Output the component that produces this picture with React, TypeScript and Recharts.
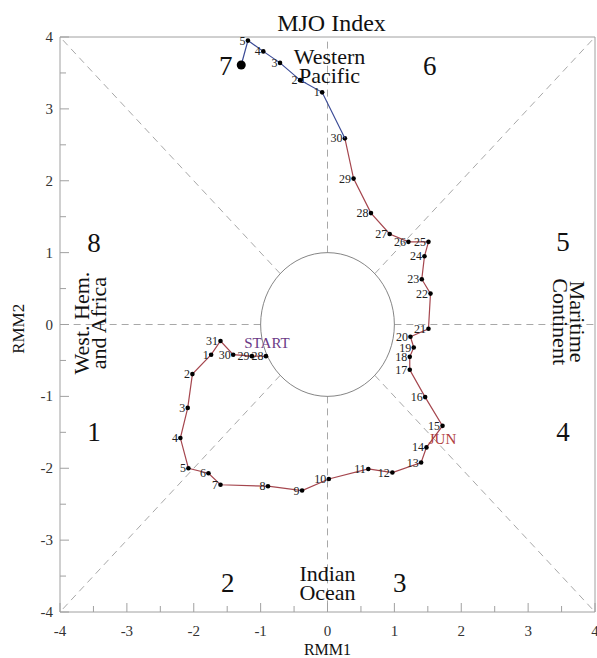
import React from 'react';
import { ScatterChart, Scatter, XAxis, YAxis, ReferenceLine, ReferenceDot } from 'recharts';

// red leg: last days of the first month, then the whole of the next month
const redDays = [28, 29, 30, 31, 1, 2, 3, 4, 5, 6, 7, 8, 9, 10, 11, 12, 13, 14, 15, 16, 17, 18, 19, 20, 21, 22, 23, 24, 25, 26, 27, 28, 29, 30];
const redRmm1 = [-0.92, -1.13, -1.41, -1.6, -1.74, -2.02, -2.09, -2.2, -2.08, -1.78, -1.6, -0.89, -0.38, 0.02, 0.61, 0.97, 1.4, 1.48, 1.72, 1.46, 1.23, 1.23, 1.29, 1.24, 1.51, 1.54, 1.41, 1.45, 1.51, 1.21, 0.93, 0.65, 0.39, 0.26];
const redRmm2 = [-0.44, -0.44, -0.42, -0.23, -0.42, -0.69, -1.16, -1.58, -2.0, -2.07, -2.23, -2.25, -2.31, -2.15, -2.01, -2.06, -1.92, -1.71, -1.41, -1.01, -0.63, -0.45, -0.32, -0.17, -0.06, 0.43, 0.63, 0.95, 1.15, 1.15, 1.26, 1.55, 2.03, 2.59];

// blue leg: first days of the following month
const blueDays = [1, 2, 3, 4, 5];
const blueRmm1 = [-0.08, -0.41, -0.71, -0.96, -1.19];
const blueRmm2 = [3.23, 3.4, 3.64, 3.8, 3.95];

const lastRmm1 = -1.29;
const lastRmm2 = 3.61;

const axisTicks = [-4, -3.5, -3, -2.5, -2, -1.5, -1, -0.5, 0, 0.5, 1, 1.5, 2, 2.5, 3, 3.5, 4];

const phaseLabels = ['1', '2', '3', '4', '5', '6', '7', '8'];
const phaseX = [-3.49, -1.49, 1.08, 3.52, 3.52, 1.53, -1.52, -3.49];
const phaseY = [-1.5, -3.6, -3.6, -1.5, 1.15, 3.6, 3.6, 1.13];

const regionNames = [['Western', 'Pacific'], ['Indian', 'Ocean'], ['West. Hem.', 'and Africa'], ['Maritime', 'Continent']];
const regionX = [0.03, 0.0, -3.56, 3.62];
const regionY = [3.61, -3.59, 0.02, 0.04];
const regionRot = [0, 0, -90, 90];

const W = 597;
const H = 658;
const M = { top: 36, right: 1, bottom: 45, left: 59 };
const plotW = W - M.left - M.right - 2;
const plotH = H - M.top - M.bottom - 2;

const FONT = '"Liberation Serif", "DejaVu Serif", serif';
const RED = '#a5464e';
const BLUE = '#3b4b96';
const GRID = '#a8a8a8';
const AXIS = '#a0a0a0';

const redData = redDays.map((d, i) => ({ x: redRmm1[i], y: redRmm2[i], day: d, idx: i }));
const blueData = [
  { x: redRmm1[redRmm1.length - 1], y: redRmm2[redRmm2.length - 1], day: null, link: true },
  ...blueDays.map((d, i) => ({ x: blueRmm1[i], y: blueRmm2[i], day: d })),
  { x: lastRmm1, y: lastRmm2, day: null, end: true },
];

const DayDot = (props: any) => {
  const { cx, cy, payload } = props;
  if (payload.link) return <g />;
  if (payload.end) return <circle cx={cx} cy={cy} r={4.5} fill="#000" />;
  return (
    <g>
      <circle cx={cx} cy={cy} r={2.3} fill="#000" />
      <text x={cx - 2.5} y={cy} textAnchor="end" dominantBaseline="central" fontSize={12} fontFamily={FONT} fill="#222">
        {payload.day}
      </text>
      {payload.idx === 0 && (
        <text x={cx + 1} y={cy - 13} textAnchor="middle" dominantBaseline="central" fontSize={15} fontFamily={FONT} fill="#6b3a86">
          START
        </text>
      )}
      {payload.idx === 18 && (
        <text x={cx} y={cy + 13} textAnchor="middle" dominantBaseline="central" fontSize={15} fontFamily={FONT} fill="#b04040">
          JUN
        </text>
      )}
    </g>
  );
};

const BottomTick = (props: any) => {
  const { x, y, payload } = props;
  const v = payload.value;
  const major = Number.isInteger(v);
  return (
    <g>
      <line x1={x} x2={x} y1={y} y2={y - (major ? 9 : 6)} stroke={AXIS} />
      {major && (
        <text x={x} y={y + 19} textAnchor="middle" dominantBaseline="central" fontSize={15} fontFamily={FONT} fill="#333">
          {v}
        </text>
      )}
    </g>
  );
};

const TopTick = (props: any) => {
  const { x, y, payload } = props;
  const major = Number.isInteger(payload.value);
  return <line x1={x} x2={x} y1={y} y2={y + (major ? 9 : 6)} stroke={AXIS} />;
};

const LeftTick = (props: any) => {
  const { x, y, payload } = props;
  const v = payload.value;
  const major = Number.isInteger(v);
  return (
    <g>
      <line x1={x} x2={x + (major ? 9 : 6)} y1={y} y2={y} stroke={AXIS} />
      {major && (
        <text x={x - 7} y={y} textAnchor="end" dominantBaseline="central" fontSize={15} fontFamily={FONT} fill="#333">
          {v}
        </text>
      )}
    </g>
  );
};

const RightTick = (props: any) => {
  const { x, y, payload } = props;
  const major = Number.isInteger(payload.value);
  return <line x1={x} x2={x - (major ? 9 : 6)} y1={y} y2={y} stroke={AXIS} />;
};

const textShape = (lines: string[], size: number, rot: number, lh: number) => (p: any) => {
  const { cx, cy } = p;
  return (
    <text transform={rot ? `rotate(${rot} ${cx} ${cy})` : undefined} fontSize={size} fontFamily={FONT} fill="#111" textAnchor="middle" dominantBaseline="central">
      {lines.map((l, i) => (
        <tspan key={i} x={cx} y={cy + (i - (lines.length - 1) / 2) * lh}>
          {l}
        </tspan>
      ))}
    </text>
  );
};

// dashed phase dividers, from the unit circle out to the frame
const dividers = [
  [1, 0, 4, 0], [-1, 0, -4, 0], [0, 1, 0, 4], [0, -1, 0, -4],
  [0.707, 0.707, 4, 4], [-0.707, 0.707, -4, 4], [0.707, -0.707, 4, -4], [-0.707, -0.707, -4, -4],
];

export default function App() {
  return (
    <div style={{ position: 'absolute', left: 0, top: 0, width: W, height: H, background: '#fff' }}>
      <ScatterChart width={W} height={H} margin={M}>
        <XAxis type="number" dataKey="x" domain={[-4, 4]} ticks={axisTicks} interval={0} height={1} tickSize={0} tickMargin={0} tickLine={false} axisLine={{ stroke: AXIS }} tick={BottomTick} allowDataOverflow />
        <XAxis xAxisId="top" orientation="top" type="number" domain={[-4, 4]} ticks={axisTicks} interval={0} height={1} tickSize={0} tickMargin={0} tickLine={false} axisLine={{ stroke: AXIS }} tick={TopTick} />
        <YAxis type="number" dataKey="y" domain={[-4, 4]} ticks={axisTicks} interval={0} width={1} tickSize={0} tickMargin={0} tickLine={false} axisLine={{ stroke: AXIS }} tick={LeftTick} allowDataOverflow />
        <YAxis yAxisId="right" orientation="right" type="number" domain={[-4, 4]} ticks={axisTicks} interval={0} width={1} tickSize={0} tickMargin={0} tickLine={false} axisLine={{ stroke: AXIS }} tick={RightTick} />

        {dividers.map((d, i) => (
          <ReferenceLine key={`d${i}`} segment={[{ x: d[0], y: d[1] }, { x: d[2], y: d[3] }]} stroke={GRID} strokeDasharray="7 5" strokeWidth={1} />
        ))}

        <ReferenceDot x={0} y={0} r={0} shape={(p: any) => <ellipse cx={p.cx} cy={p.cy} rx={plotW / 8} ry={plotH / 8} fill="none" stroke="#666" strokeWidth={0.8} />} />

        {phaseLabels.map((t, i) => (
          <ReferenceDot key={`p${i}`} x={phaseX[i]} y={phaseY[i]} r={0} ifOverflow="visible" shape={textShape([t], 27, 0, 0)} />
        ))}
        {regionNames.map((t, i) => (
          <ReferenceDot key={`r${i}`} x={regionX[i]} y={regionY[i]} r={0} ifOverflow="visible" shape={textShape(t, 22, regionRot[i], i < 2 ? 19 : 17)} />
        ))}
        <ReferenceDot x={0.06} y={4.19} r={0} ifOverflow="visible" shape={textShape(['MJO Index'], 24, 0, 0)} />
        <ReferenceDot x={0} y={-4.515} r={0} ifOverflow="visible" shape={textShape(['RMM1'], 16, 0, 0)} />
        <ReferenceDot x={-4.63} y={-0.06} r={0} ifOverflow="visible" shape={textShape(['RMM2'], 17, -90, 0)} />

        <Scatter data={redData} line={{ stroke: RED, strokeWidth: 1.2 }} lineType="joint" shape={DayDot} isAnimationActive={false} />
        <Scatter data={blueData} line={{ stroke: BLUE, strokeWidth: 1.2 }} lineType="joint" shape={DayDot} isAnimationActive={false} />
      </ScatterChart>
    </div>
  );
}
